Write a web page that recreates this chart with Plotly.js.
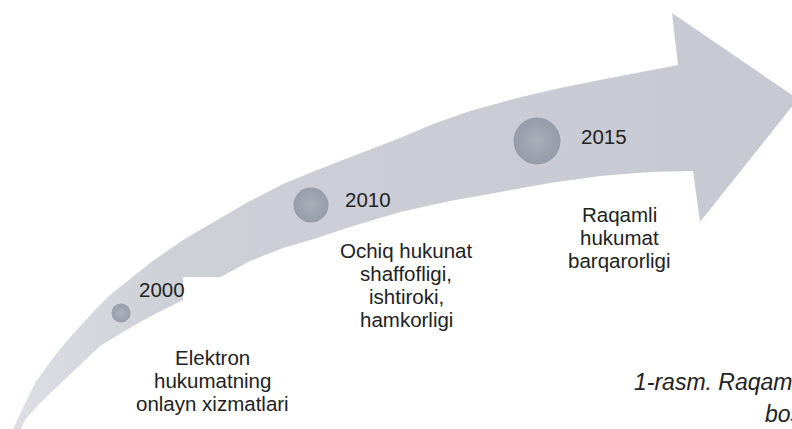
<!DOCTYPE html>
<html>
<head>
<meta charset="utf-8">
<script src="https://cdn.plot.ly/plotly-3.0.1.min.js"></script>
<style>
html, body { margin: 0; padding: 0; background: #ffffff; }
#chart { width: 792px; height: 429px; }
</style>
</head>
<body>
<div id="chart"></div>
<script>
// ---- Data ----
// Milestones (years), their descriptions
const years = ['2000', '2010', '2015'];
const descriptions = [
  ['Elektron', 'hukumatning', 'onlayn xizmatlari'],
  ['Ochiq hukunat', 'shaffofligi,', 'ishtiroki,', 'hamkorligi'],
  ['Raqamli', 'hukumat', 'barqarorligi']
];
// Milestone positions along the arrow (canvas units, y downwards)
const milestoneX = [121, 311, 537];
const milestoneY = [313, 205, 141];
const milestoneSize = [19, 35, 47];

// Arrow shaft outline (canvas units, y downwards)
const shaftLowerX = [16, 25, 40, 55, 67, 85, 100, 123, 140, 157, 183, 217, 250, 283, 317, 350, 400, 450, 500, 550, 600, 650, 693];
const shaftLowerY = [440, 420, 403, 389, 377, 360, 346, 332, 322, 313, 300, 279, 261, 248, 238, 227, 212, 201, 192, 183, 176, 172, 171];
const shaftUpperX = [9, 13, 22, 35, 50, 65, 80, 95, 110, 123, 150, 183, 217, 250, 283, 317, 350, 400, 433, 470, 517, 560, 600, 640, 678];
const shaftUpperY = [440, 429, 410, 383, 362, 343, 326, 310, 295, 285, 263, 240, 220, 201, 184, 170, 157, 138, 124, 111, 98, 88, 80, 72, 65];
// Arrow head: lower barb, tip, upper barb
const headX = [700, 798, 672];
const headY = [222, 99, 13];

// Caption (partly cut off at the right edge in the reference)
const captionLines = ['1-rasm. Raqamli hukumat rivojlanishi', 'bosqichlari'];

// ---- Build arrow polygon ----
const arrowX = shaftLowerX.concat(headX, shaftUpperX.slice().reverse());
const arrowY = shaftLowerY.concat(headY, shaftUpperY.slice().reverse());

const FONT = 'Liberation Sans, Arial, Helvetica, sans-serif';
const TXT = '#222222';

const traces = [
  {
    type: 'scatter', mode: 'lines',
    x: arrowX, y: arrowY,
    fill: 'toself',
    fillcolor: '#c8cad2',
    fillgradient: {
      type: 'horizontal',
      colorscale: [[0, '#dddfe5'], [0.2, '#ced0d8'], [1, '#c6c9d1']]
    },
    line: { width: 0, color: 'rgba(0,0,0,0)' },
    hoverinfo: 'skip'
  },
  {
    type: 'scatter', mode: 'markers',
    x: milestoneX, y: milestoneY,
    marker: {
      size: milestoneSize,
      color: '#7f8794',
      gradient: { type: 'radial', color: '#9ba2ad' },
      line: { width: 0 }
    },
    hoverinfo: 'skip'
  }
];

// ---- Text placement (layout) ----
const yearLeft = [137, 343, 579];
const yearBaseline = [297, 207, 144];
const descCenter = [212, 406, 619];
const descFirstBaseline = [365, 258, 222];
const descLineGap = 23;
const fsz = 20.5;
const mid = b => b - 0.36 * fsz;

const annotations = [];
years.forEach((yr, i) => {
  annotations.push({
    xref: 'x', yref: 'y', x: yearLeft[i], y: mid(yearBaseline[i]),
    xanchor: 'left', yanchor: 'middle', showarrow: false,
    text: yr, font: { family: FONT, size: fsz, color: TXT }
  });
  descriptions[i].forEach((line, j) => {
    annotations.push({
      xref: 'x', yref: 'y', x: descCenter[i], y: mid(descFirstBaseline[i] + j * descLineGap),
      xanchor: 'center', yanchor: 'middle', showarrow: false,
      text: line, font: { family: FONT, size: fsz, color: TXT }
    });
  });
});
const capLeft = [632, 763];
const capBaseline = [390, 422];
captionLines.forEach((line, j) => {
  annotations.push({
    xref: 'x', yref: 'y', x: capLeft[j], y: capBaseline[j] - 0.36 * 23,
    xanchor: 'left', yanchor: 'middle', showarrow: false,
    text: '<i>' + line + '</i>', font: { family: FONT, size: 23, color: TXT }
  });
});

const layout = {
  width: 792, height: 429,
  margin: { l: 0, r: 0, t: 0, b: 0, pad: 0 },
  paper_bgcolor: '#ffffff', plot_bgcolor: '#ffffff',
  showlegend: false,
  xaxis: { range: [0, 792], visible: false, fixedrange: true },
  yaxis: { range: [429, 0], visible: false, fixedrange: true },
  shapes: [
    { type: 'rect', xref: 'x', yref: 'y', x0: 183, x1: 235, y0: 277, y1: 312, fillcolor: '#ffffff', line: { width: 0 }, layer: 'above' },
    { type: 'rect', xref: 'x', yref: 'y', x0: 317, x1: 480, y0: 239, y1: 345, fillcolor: '#ffffff', line: { width: 0 }, layer: 'above' }
  ],
  annotations: annotations
};

Plotly.newPlot('chart', traces, layout, { displayModeBar: false, staticPlot: true });
</script>
</body>
</html>
